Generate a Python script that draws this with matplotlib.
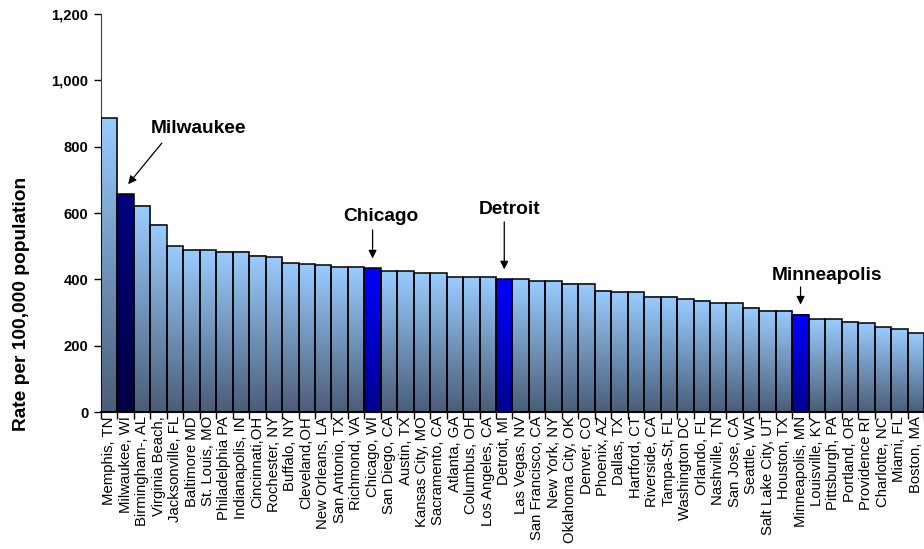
import matplotlib as mpl
mpl.use('Agg')
import matplotlib.pyplot as plt
import numpy as np
from matplotlib.colors import LinearSegmentedColormap

plt.rcParams['font.family'] = ['Liberation Sans', 'DejaVu Sans']

cities = ['Memphis, TN', 'Milwaukee, WI', 'Birmingham-, AL', 'Virginia Beach,',
          'Jacksonville, FL', 'Baltimore MD', 'St. Louis, MO', 'Philadelphia PA',
          'Indianapolis, IN', 'Cincinnati,OH', 'Rochester, NY', 'Buffalo, NY',
          'Cleveland,OH', 'New Orleans, LA', 'San Antonio, TX', 'Richmond, VA',
          'Chicago, WI', 'San Diego, CA', 'Austin, TX', 'Kansas City, MO',
          'Sacramento, CA', 'Atlanta, GA', 'Columbus, OH', 'Los Angeles, CA',
          'Detroit, MI', 'Las Vegas, NV', 'San Francisco, CA', 'New York, NY',
          'Oklahoma City, OK', 'Denver, CO', 'Phoenix, AZ', 'Dallas, TX',
          'Hartford, CT', 'Riverside, CA', 'Tampa-St, FL', 'Washington DC',
          'Orlando, FL', 'Nashville, TN', 'San Jose, CA', 'Seattle, WA',
          'Salt Lake City, UT', 'Houston, TX', 'Minneapolis, MN', 'Louisville, KY',
          'Pittsburgh, PA', 'Portland, OR', 'Providence RI', 'Charlotte, NC',
          'Miami, FL', 'Boston, MA']
rates = [886, 657, 622, 564, 500, 487, 487, 483, 483, 471,
         466, 449, 445, 442, 437, 437, 433, 425, 425, 419,
         419, 407, 407, 407, 400, 400, 394, 394, 386, 386,
         365, 361, 361, 347, 347, 340, 335, 328, 328, 315,
         306, 306, 294, 280, 280, 272, 267, 255, 250, 238]

# which bars get a special colour
dark_city = 'Milwaukee, WI'
blue_cities = ['Chicago, WI', 'Detroit, MI', 'Minneapolis, MN']

# callouts: city -> (label, label x offset, label y, arrow tail x offset, arrow tail y)
callouts = {'Milwaukee, WI': ('Milwaukee', 4.4, 856, 2.2, 811),
            'Chicago, WI': ('Chicago', 0.5, 588, 0.0, 549),
            'Detroit, MI': ('Detroit', 0.35, 612, 0.0, 573),
            'Minneapolis, MN': ('Minneapolis', 1.6, 413, 0.0, 377)}

cmap_std = LinearSegmentedColormap.from_list('std', ['#4A5D78', '#99CCFF'])
cmap_dark = LinearSegmentedColormap.from_list('dark', ['#000040', '#000080'])
cmap_blue = LinearSegmentedColormap.from_list('blue', ['#000090', '#0000FF'])

fig = plt.figure(figsize=(9.24, 5.49), dpi=100)
ax = fig.add_axes([0.1093, 0.2495, 0.8907, 0.725])

x = np.arange(len(cities))
bars = ax.bar(x, rates, width=1.0, facecolor='none', edgecolor='black',
              linewidth=1.1, zorder=3)

grad = np.linspace(0, 1, 256).reshape(-1, 1)
for city, b in zip(cities, bars):
    if city == dark_city:
        cm = cmap_dark
    elif city in blue_cities:
        cm = cmap_blue
    else:
        cm = cmap_std
    x0 = b.get_x()
    ax.imshow(grad, cmap=cm, origin='lower', aspect='auto', zorder=2,
              extent=(x0, x0 + b.get_width(), 0, b.get_height()))

ax.set_xlim(-0.5, len(cities) - 0.5)
ax.set_ylim(0, 1200)

ax.set_xticks(x)
ax.set_xticklabels(cities, rotation=90, fontsize=10.7)
ax.set_xticks(np.arange(len(cities) + 1) - 0.5, minor=True)
ax.tick_params(axis='x', which='major', length=0, pad=3)
ax.tick_params(axis='x', which='minor', length=5, direction='out', width=1)

ax.set_yticks(range(0, 1201, 200))
ax.set_yticklabels([f'{v:,}' for v in range(0, 1201, 200)],
                   fontsize=10.6, fontweight='bold')
ax.tick_params(axis='y', length=5, direction='out', width=1, pad=4)

for s in ['top', 'right']:
    ax.spines[s].set_visible(False)
ax.spines['left'].set_color('#404040')
ax.spines['bottom'].set_linewidth(1.5)

fig.text(0.023, 0.446, 'Rate per 100,000 population', rotation=90,
         ha='center', va='center', fontsize=13.8, fontweight='bold')

for city, (label, lx, ly, tx, ty) in callouts.items():
    i = cities.index(city)
    ax.text(i + lx, ly, label, ha='center', va='center',
            fontsize=13.8, fontweight='bold')
    head_x = i + 0.15 if city == dark_city else i
    ax.annotate('', xy=(head_x, rates[i] + 30), xytext=(i + tx, ty),
                arrowprops=dict(arrowstyle='-|>', color='black', lw=0.9,
                                mutation_scale=12, shrinkA=0, shrinkB=0))

fig.savefig('out.png')
plt.close(fig)
